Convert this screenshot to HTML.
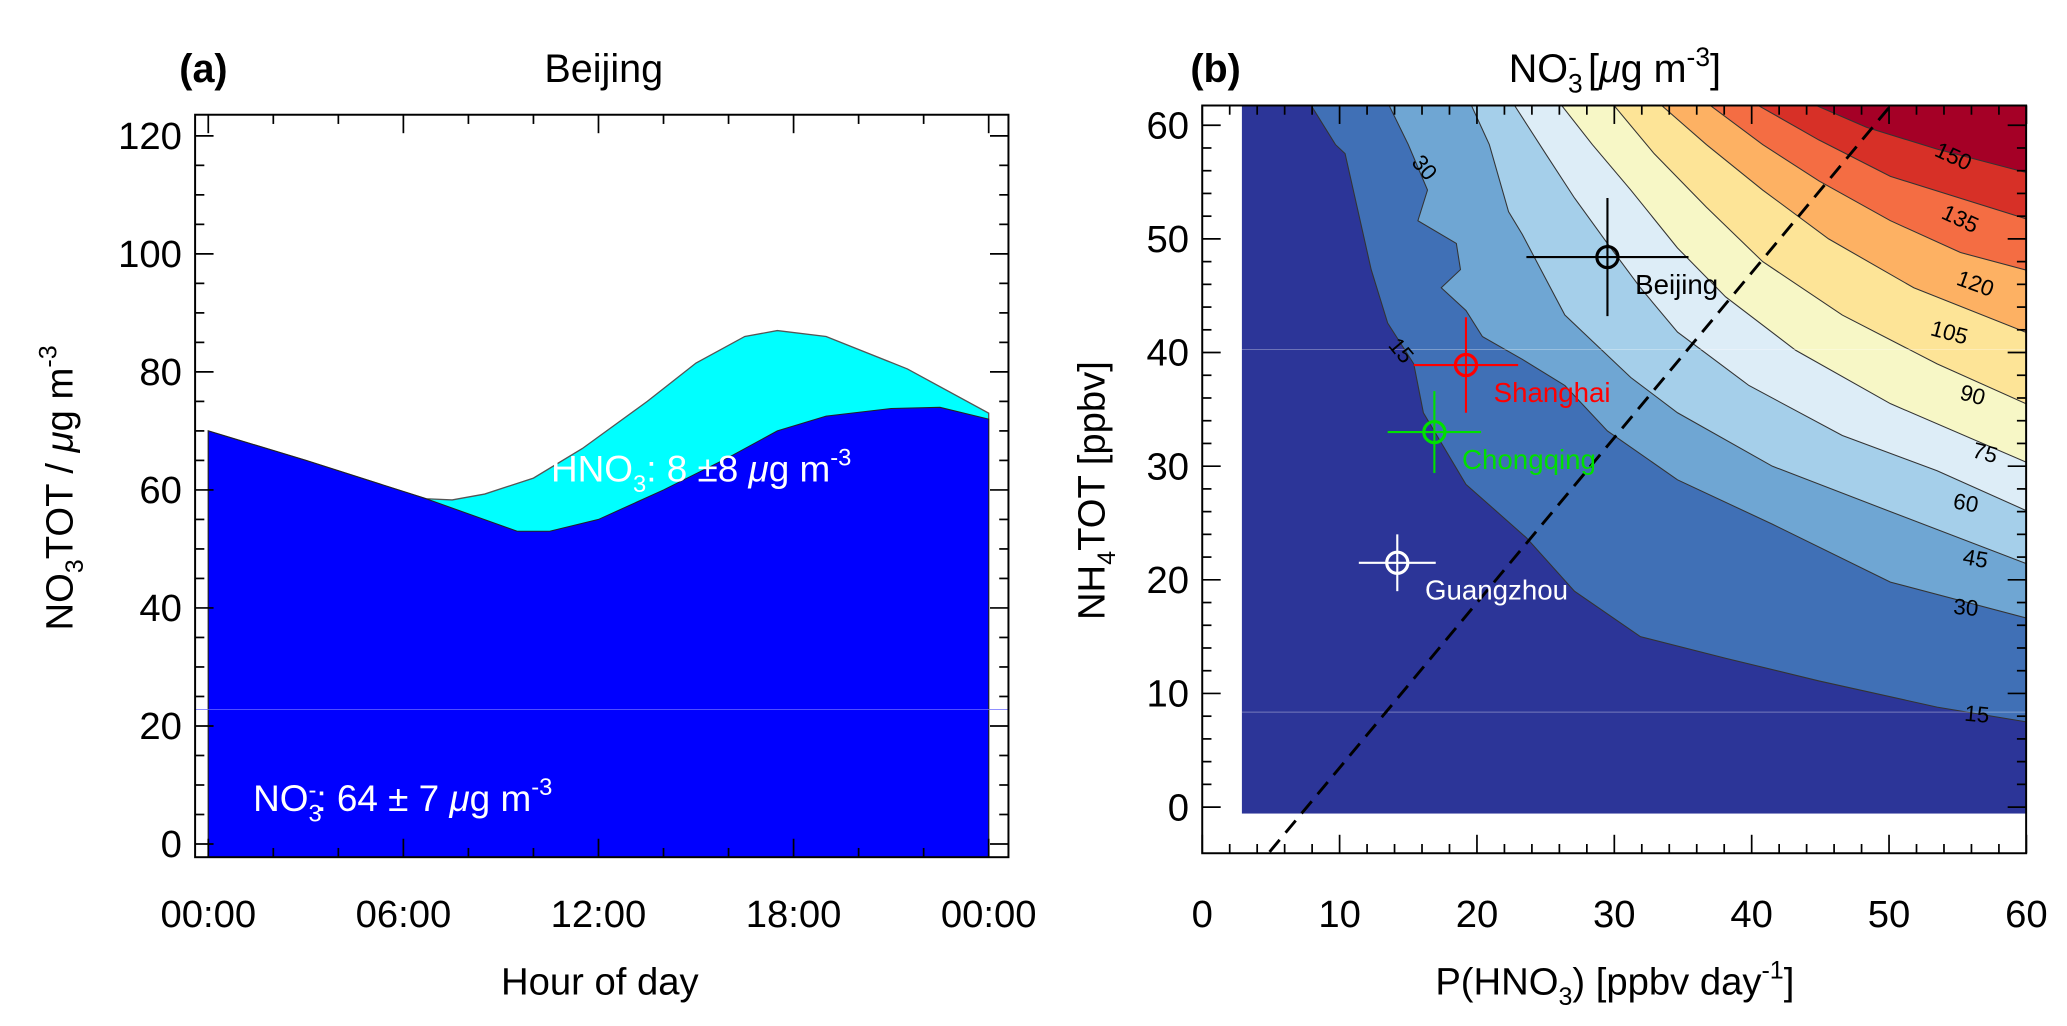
<!DOCTYPE html>
<html><head><meta charset="utf-8"><style>
html,body{margin:0;padding:0;background:#fff}
svg{display:block}
text{font-family:"Liberation Sans",Arial,sans-serif}
</style></head><body>
<svg id="fig" width="2067" height="1026" viewBox="0 0 1568 778" preserveAspectRatio="none" xmlns="http://www.w3.org/2000/svg">
<g id="pa"></g>
<g id="pb"></g>
</svg>
<script>
// ---------- Panel (a) data ----------
const hoursNO3 = [0, 3, 6.7, 9.5, 10.5, 12, 14, 16, 17.5, 19, 21, 22.5, 24];
const valsNO3  = [70, 65, 58.5, 53, 53, 55, 60, 65.5, 70, 72.5, 73.8, 74, 72];
const hoursTop = [0, 3, 6.7, 7.5, 8.5, 10, 11.5, 13.5, 15, 16.5, 17.5, 19, 21.5, 24];
const valsTop  = [70, 65, 58.5, 58.3, 59.3, 62, 67, 75, 81.5, 86, 87, 86, 80.5, 73];
const aYTicks = [0, 20, 40, 60, 80, 100, 120];
const aXTicks = [0, 6, 12, 18, 24];
const aXLabels = ["00:00", "06:00", "12:00", "18:00", "00:00"];

// ---------- Panel (b) data ----------
const levels = [15, 30, 45, 60, 75, 90, 105, 120, 135, 150];
const levelColors = ["#4070b6", "#6fa6d3", "#a5cfea", "#ddedf7", "#f7f7c6", "#fde497", "#fdb163", "#f46d43", "#d73027", "#a50026"];
const c15  = [[7.8,62],[9.7,58.3],[10.4,57.5],[12.3,47.3],[13.5,42.6],[15.4,39],[16.1,34.7],[19.2,28.4],[23.6,23.7],[27.1,19],[31.9,15],[38.1,13.1],[44.9,11.1],[53.5,8.8],[62,7.1]];
const c30  = [[13.5,62],[15,58.3],[16.4,54.3],[15.7,51.6],[18.5,49.6],[18.8,47.3],[17.4,45.7],[19.2,43.7],[20.4,41.4],[23.3,39.4],[26.4,37.1],[29.5,33.1],[34.6,28.8],[41.5,24.9],[50.1,19.8],[62,16]];
const c45  = [[19.5,62],[20.9,58.3],[22.3,52.4],[23.3,50.4],[25,46.5],[26.4,43.3],[28.4,41],[31.2,37.8],[34.6,34.7],[41.5,30],[50.1,26],[62,20.5]];
const c60  = [[22.6,62],[25,57.5],[27.1,53.6],[29.5,49.6],[31.9,45.7],[34.6,41.8],[39.8,37.1],[46.6,32.7],[53.5,29.6],[62,25]];
const c75  = [[26,62],[28.4,58.3],[31.2,54.3],[34.6,49.2],[38.1,44.9],[43.2,40.2],[50.1,35.5],[62,29.3]];
const c90  = [[29.8,62],[32.9,57.5],[36.7,52.8],[40.8,48],[46.6,43.3],[53.5,39],[62,34.4]];
const c105 = [[33.2,62],[36.7,58.3],[40.8,54.3],[45.6,50],[51.8,45.7],[62,40.8]];
const c120 = [[36.7,62],[40.8,58.3],[44.9,55.1],[50.1,51.6],[55.2,48.8],[62,46.6]];
const c135 = [[40.1,62],[44.9,58.7],[50.1,55.5],[62,51]];
const c150 = [[44.2,62],[48.4,59.8],[53.5,57.9],[62,55.2]];
const contours = [c15, c30, c45, c60, c75, c90, c105, c120, c135, c150];
const contourLabels = [[16.2,56.3,"30",50],[14.5,40.2,"15",50],[54.7,57.3,"150",25],[55.2,51.8,"135",25],[56.3,46.1,"120",20],[54.4,41.8,"105",15],[56.1,36.3,"90",15],[57,31.2,"75",15],[55.6,26.8,"60",10],[56.3,21.9,"45",10],[55.6,17.6,"30",5],[56.4,8.2,"15",5]];
const cityNames = ["Beijing", "Shanghai", "Chongqing", "Guangzhou"];
const cityP = [29.5, 19.2, 16.9, 14.2];
const cityN = [48.4, 38.9, 33, 21.5];
const cityPErr = [5.9, 3.8, 3.4, 2.8];
const cityNErr = [5.2, 4.2, 3.6, 2.5];
const cityColors = ["#000", "#ff0000", "#00e000", "#fff"];
const dashP = [4.9, 50.1];
const dashN = [-3.95, 61.7];
const bTicks = [0, 10, 20, 30, 40, 50, 60];

const NS = "http://www.w3.org/2000/svg";
function mk(parent, tag, attrs, txt){const e=document.createElementNS(NS,tag);for(const k in attrs)e.setAttribute(k,attrs[k]);if(txt!==undefined)e.textContent=txt;parent.appendChild(e);return e;}

// ---------- Panel (a) ----------
const pa = document.getElementById('pa');
const aL=148,aR=765,aT=87,aB=650;
const ax = h => 158 + h*(750-158)/24;
const ay = v => 640 - v*(640-103)/120;
function areaPath(hs, vs){let d="M"+ax(hs[0])+","+ay(-2.2);hs.forEach((h,i)=>d+=" L"+ax(h)+","+ay(vs[i]));d+=" L"+ax(hs[hs.length-1])+","+ay(-2.2)+" Z";return d;}
let e;
e=mk(pa,'path',{d:areaPath(hoursTop,valsTop),fill:"#00ffff",stroke:"#555","stroke-width":1});

e=mk(pa,'path',{d:areaPath(hoursNO3,valsNO3),fill:"#0000ff",stroke:"#222","stroke-width":0.8});

mk(pa,'line',{x1:aL,x2:aR,y1:538,y2:538,stroke:"#6a6aff","stroke-width":0.6});
e=mk(pa,'rect',{x:aL,y:aT,width:aR-aL,height:aB-aT,fill:"none",stroke:"#000","stroke-width":1.5});

for(let v=0;v<=120;v+=5){const maj=v%20===0;const y=ay(v);
 mk(pa,'line',{x1:aL,x2:aL+(maj?14:7),y1:y,y2:y,stroke:"#000","stroke-width":1.3});
 mk(pa,'line',{x1:aR,x2:aR-(maj?14:7),y1:y,y2:y,stroke:"#000","stroke-width":1.3});}
aYTicks.forEach(v=>{e=mk(pa,'text',{x:138,y:ay(v)+10,"text-anchor":"end","font-size":29},String(v));
 });
for(let h=0;h<=24;h+=2){const maj=h%6===0;const x=ax(h);
 mk(pa,'line',{x1:x,x2:x,y1:aB,y2:aB-(maj?14:7),stroke:"#000","stroke-width":1.3});
 mk(pa,'line',{x1:x,x2:x,y1:aT,y2:aT+(maj?14:7),stroke:"#000","stroke-width":1.3});}
aXTicks.forEach((h,i)=>{e=mk(pa,'text',{x:ax(h),y:703,"text-anchor":"middle","font-size":29},aXLabels[i]);
 });

// ---------- Panel (b) ----------
const pb = document.getElementById('pb');
const bL=912,bR=1537,bT=80,bB=647;
const bx = p => 912 + p*10.42;
const by = n => 612 - n*8.617;
mk(pb,'defs',{}).innerHTML='<clipPath id="clipb"><rect x="942" y="80" width="595" height="537"/></clipPath>';
const fg = mk(pb,'g',{"clip-path":"url(#clipb)"});
e=mk(fg,'rect',{x:942,y:80,width:595,height:537,fill:"#2c3598"});

contours.forEach((c,i)=>{let d="M"+bx(c[0][0])+","+by(c[0][1]);c.forEach(p=>d+=" L"+bx(p[0])+","+by(p[1]));
 d+=" L"+bx(62)+","+by(62)+" Z";
 e=mk(fg,'path',{d:d,fill:levelColors[i],stroke:"#333","stroke-width":0.8});
 });
mk(fg,'line',{x1:942,x2:bR,y1:265,y2:265,stroke:"#ffffff","stroke-opacity":0.35,"stroke-width":0.7});
mk(fg,'line',{x1:942,x2:bR,y1:540,y2:540,stroke:"#ffffff","stroke-opacity":0.35,"stroke-width":0.7});
contourLabels.forEach(l=>{e=mk(pb,'text',{x:bx(l[0]),y:by(l[1])+6,"text-anchor":"middle","font-size":17,transform:"rotate("+l[3]+" "+bx(l[0])+" "+by(l[1])+")"},l[2]);
 });
e=mk(pb,'line',{x1:bx(dashP[0]),y1:by(dashN[0]),x2:bx(dashP[1]),y2:by(dashN[1]),stroke:"#000","stroke-width":2.2,"stroke-dasharray":"12,7"});

cityNames.forEach((nm,i)=>{const g=mk(pb,'g',{});
 
 const x=bx(cityP[i]),y=by(cityN[i]);const col=cityColors[i];
 mk(g,'line',{x1:bx(cityP[i]-cityPErr[i]),x2:bx(cityP[i]+cityPErr[i]),y1:y,y2:y,stroke:col,"stroke-width":1.6});
 mk(g,'line',{x1:x,x2:x,y1:by(cityN[i]-cityNErr[i]),y2:by(cityN[i]+cityNErr[i]),stroke:col,"stroke-width":1.6});
 mk(g,'circle',{cx:x,cy:y,r:8,fill:"none",stroke:col,"stroke-width":2.4});
 mk(g,'text',{x:x+21,y:y+28,"font-size":21,fill:col},nm);});
e=mk(pb,'rect',{x:bL,y:bT,width:bR-bL,height:bB-bT,fill:"none",stroke:"#000","stroke-width":1.5});

for(let v=0;v<=60;v+=2){const maj=v%10===0;const y=by(v),x=bx(v);
 mk(pb,'line',{x1:bL,x2:bL+(maj?14:7),y1:y,y2:y,stroke:"#000","stroke-width":1.3});
 mk(pb,'line',{x1:bR,x2:bR-(maj?14:7),y1:y,y2:y,stroke:"#000","stroke-width":1.3});
 mk(pb,'line',{x1:x,x2:x,y1:bB,y2:bB-(maj?14:7),stroke:"#000","stroke-width":1.3});
 mk(pb,'line',{x1:x,x2:x,y1:bT,y2:bT+(maj?14:7),stroke:"#000","stroke-width":1.3});}
bTicks.forEach(v=>{e=mk(pb,'text',{x:902,y:by(v)+10,"text-anchor":"end","font-size":29},String(v));
 
 e=mk(pb,'text',{x:bx(v),y:703,"text-anchor":"middle","font-size":29},String(v));
 });
</script>
<svg style="position:absolute;left:0;top:0" width="2067" height="1026" viewBox="0 0 1568 778" preserveAspectRatio="none" xmlns="http://www.w3.org/2000/svg">
<text x="136" y="62" font-size="30" font-weight="bold">(a)</text>
<text x="458" y="62" font-size="30" text-anchor="middle">Beijing</text>
<text x="903" y="62" font-size="30" font-weight="bold">(b)</text>
<text x="1225" y="62" font-size="30" text-anchor="middle">NO<tspan font-size="20" dy="8">3</tspan><tspan font-size="20" dx="-11" dy="-20">-</tspan><tspan dy="12"> [</tspan><tspan font-style="italic">μ</tspan>g m<tspan font-size="20" dy="-12">-3</tspan><tspan dy="12">]</tspan></text>
<text transform="translate(55 370) rotate(-90)" font-size="29" text-anchor="middle">NO<tspan font-size="19" dy="8">3</tspan><tspan dy="-8">TOT / </tspan><tspan font-style="italic">μ</tspan>g m<tspan font-size="19" dy="-12">-3</tspan></text>
<text x="455" y="754" font-size="29" text-anchor="middle">Hour of day</text>
<text x="418" y="365" font-size="28" fill="#fff">HNO<tspan font-size="18" dy="8">3</tspan><tspan dy="-8">: 8 ±8 </tspan><tspan font-style="italic">μ</tspan>g m<tspan font-size="18" dy="-12">-3</tspan></text>
<text x="192" y="615" font-size="28" fill="#fff">NO<tspan font-size="18" dy="8">3</tspan><tspan font-size="18" dx="-10" dy="-18">-</tspan><tspan dy="10">:  64 ± 7 </tspan><tspan font-style="italic">μ</tspan>g m<tspan font-size="18" dy="-12">-3</tspan></text>
<text transform="translate(838 372) rotate(-90)" font-size="29" text-anchor="middle">NH<tspan font-size="19" dy="8">4</tspan><tspan dy="-8">TOT [ppbv]</tspan></text>
<text x="1225" y="754" font-size="29" text-anchor="middle">P(HNO<tspan font-size="19" dy="8">3</tspan><tspan dy="-8">) [ppbv day</tspan><tspan font-size="19" dy="-12">-1</tspan><tspan dy="12">]</tspan></text>
</svg>
</body></html>
